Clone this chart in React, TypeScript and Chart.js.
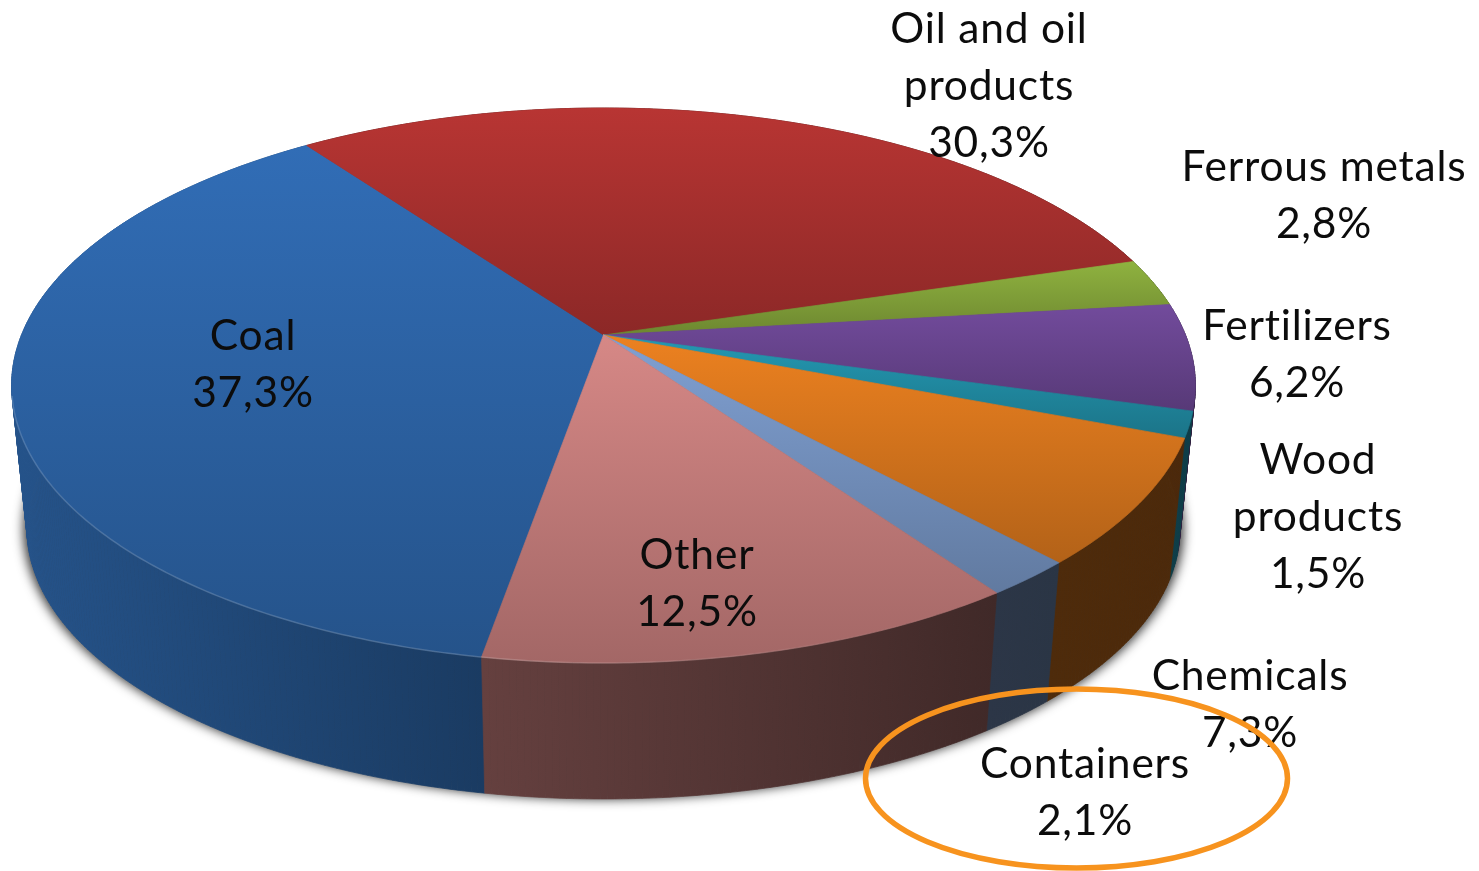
import React, { useEffect, useRef } from "react";
import { Chart, registerables } from "chart.js";

Chart.register(...registerables);

const categories = ["Coal", "Oil and oil products", "Ferrous metals", "Fertilizers", "Wood products", "Chemicals", "Containers", "Other"];
const shares = [37.3, 30.3, 2.8, 6.2, 1.5, 7.3, 2.1, 12.5];
const sliceColors = ["#316db6", "#b83533", "#8fb23f", "#724b9c", "#2499b3", "#ec8120", "#80a0d2", "#d68886"];
const wallShadeLeft = [0.76, 0.4, 0.4, 0.4, 0.4, 0.33, 0.34, 0.47];
const wallShadeRight = [0.54, 0.4, 0.4, 0.4, 0.4, 0.32, 0.33, 0.3];

const labelLines = [["Coal"], ["Oil and oil", "products"], ["Ferrous metals"], ["Fertilizers"], ["Wood", "products"], ["Chemicals"], ["Containers"], ["Other"]];
const labelCenterX = [253, 989, 1324, 1297, 1318, 1250, 1085, 697];
const labelTopY = [336, 29, 167, 326, 460, 676, 764, 555];

const WIDTH = 1479;
const HEIGHT = 871;
const ROTATION = 189.9;
const CX = 603.5;
const CY_TOP = 335;
const CY_BOTTOM = 479.5;
const RX = 582;
const RY = 268.3;
const PERSPECTIVE = 0.182;
const BOTTOM_SCALE = 0.974;
const FONT = '42.5px Lato, "Open Sans", sans-serif';
const LETTER_SPACING = "0.8px";
const LINE_STEP = 57;

type Pt = [number, number];

function project(angle: number, bottom: boolean): Pt {
  const x = Math.cos(angle);
  const y = Math.sin(angle);
  const w = 1 - PERSPECTIVE * y;
  const s = bottom ? BOTTOM_SCALE : 1;
  return [CX + (s * RX * x) / w, (bottom ? CY_BOTTOM : CY_TOP) + (s * RY * y) / w];
}

function rgb(hex: string): number[] {
  const n = parseInt(hex.slice(1), 16);
  return [(n >> 16) & 255, (n >> 8) & 255, n & 255];
}

function shade(hex: string, f: number): string {
  const c = rgb(hex).map((v) => Math.round(v * f));
  return `rgb(${c[0]},${c[1]},${c[2]})`;
}

function arcPoints(start: number, end: number, bottom: boolean): Pt[] {
  const n = Math.max(2, Math.ceil((end - start) / 0.01));
  const pts: Pt[] = [];
  for (let i = 0; i <= n; i++) pts.push(project(start + ((end - start) * i) / n, bottom));
  return pts;
}

function tracePoints(ctx: CanvasRenderingContext2D, pts: Pt[]) {
  ctx.beginPath();
  pts.forEach((p, i) => (i ? ctx.lineTo(p[0], p[1]) : ctx.moveTo(p[0], p[1])));
  ctx.closePath();
}

const pie3d = {
  id: "pie3d",
  beforeDatasetsDraw(chart: any) {
    const ctx: CanvasRenderingContext2D = chart.ctx;
    const arcs = chart.getDatasetMeta(0).data.map((el: any, i: number) => ({
      start: el.startAngle as number,
      end: el.endAngle as number,
      color: sliceColors[i],
      left: wallShadeLeft[i],
      right: wallShadeRight[i],
    }));

    // soft shadow only: the casting shape itself sits off the canvas
    const OFF = 4000;
    ctx.save();
    ctx.shadowColor = "rgba(0,0,0,0.8)";
    ctx.shadowBlur = 11;
    ctx.shadowOffsetX = OFF;
    ctx.fillStyle = "#000";
    tracePoints(
      ctx,
      arcPoints(0, Math.PI * 2, true).map((p): Pt => [CX + (p[0] - CX) * 1.006 - OFF, p[1]]),
    );
    ctx.fill();
    ctx.restore();

    // walls, back to front, as thin strips so the silhouette is the cylinder's own
    const walls = [...arcs].sort((a, b) => Math.sin((a.start + a.end) / 2) - Math.sin((b.start + b.end) / 2));
    for (const a of walls) {
      const top = arcPoints(a.start, a.end, false);
      const bot = arcPoints(a.start, a.end, true);
      const xs = [...top, ...bot].map((p) => p[0]);
      const g = ctx.createLinearGradient(Math.min(...xs), 0, Math.max(...xs), 0);
      g.addColorStop(0, shade(a.color, a.left));
      g.addColorStop(1, shade(a.color, a.right));
      ctx.fillStyle = g;
      ctx.strokeStyle = g;
      ctx.lineWidth = 0.7;
      for (let i = 0; i + 1 < top.length; i++) {
        tracePoints(ctx, [top[i], top[i + 1], bot[i + 1], bot[i]]);
        ctx.fill();
        ctx.stroke();
      }
    }

    // top face: each slice shades over its own height
    for (const a of arcs) {
      const pts: Pt[] = [[CX, CY_TOP], ...arcPoints(a.start, a.end, false)];
      const ys = pts.map((p) => p[1]);
      const g = ctx.createLinearGradient(0, Math.min(...ys), 0, Math.max(...ys));
      g.addColorStop(0, shade(a.color, 1));
      g.addColorStop(1, shade(a.color, 0.76));
      tracePoints(ctx, pts);
      ctx.fillStyle = g;
      ctx.strokeStyle = g;
      ctx.lineWidth = 0.7;
      ctx.fill();
      ctx.stroke();
    }

    // light rim on the front edge
    const rim = ctx.createLinearGradient(20, 0, 1000, 0);
    rim.addColorStop(0, "rgba(255,255,255,0.16)");
    rim.addColorStop(0.5, "rgba(255,255,255,0.18)");
    rim.addColorStop(1, "rgba(255,255,255,0)");
    ctx.beginPath();
    arcPoints(Math.PI * 0.3, Math.PI * 0.93, false).forEach((p, i) => (i ? ctx.lineTo(p[0], p[1]) : ctx.moveTo(p[0], p[1])));
    ctx.strokeStyle = rim;
    ctx.lineWidth = 1.5;
    ctx.stroke();
    return false;
  },
  afterDraw(chart: any) {
    const ctx: CanvasRenderingContext2D = chart.ctx;
    ctx.save();
    ctx.font = FONT;
    (ctx as any).letterSpacing = LETTER_SPACING;
    ctx.fillStyle = "#0c0c0c";
    ctx.textAlign = "center";
    ctx.textBaseline = "middle";
    categories.forEach((_, i) => {
      const lines = [...labelLines[i], shares[i].toFixed(1).replace(".", ",") + "%"];
      lines.forEach((line, j) => ctx.fillText(line, labelCenterX[i], labelTopY[i] + j * LINE_STEP));
    });
    ctx.strokeStyle = "#f7931e";
    ctx.lineWidth = 5.5;
    ctx.beginPath();
    ctx.ellipse(1076.5, 778.5, 211, 89.5, 0, 0, Math.PI * 2);
    ctx.stroke();
    ctx.restore();
  },
};

export default function App() {
  const ref = useRef<HTMLCanvasElement>(null);
  useEffect(() => {
    document.body.style.margin = "0";
    document.body.style.background = "#fff";
    const chart = new Chart(ref.current!, {
      type: "pie",
      data: {
        labels: categories,
        datasets: [{ data: shares, backgroundColor: sliceColors, borderWidth: 0 }],
      },
      options: {
        responsive: false,
        animation: false,
        rotation: ROTATION,
        events: [],
        plugins: { legend: { display: false }, tooltip: { enabled: false }, title: { display: false } },
      },
      plugins: [pie3d],
    } as any);
    return () => chart.destroy();
  }, []);
  return <canvas ref={ref} width={WIDTH} height={HEIGHT} style={{ display: "block", filter: "blur(0.5px)" }} />;
}
